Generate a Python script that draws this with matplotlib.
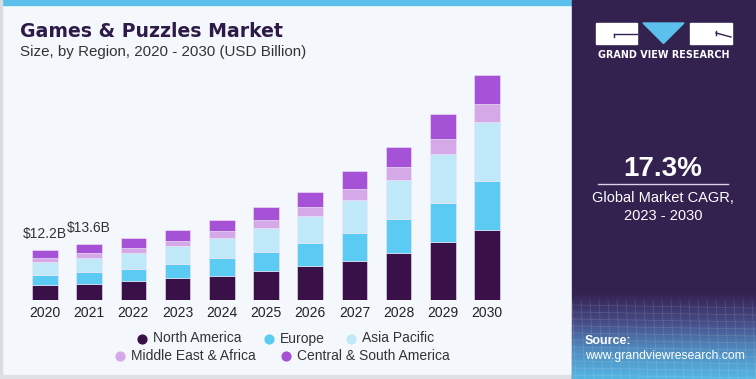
import matplotlib
matplotlib.use("Agg")
import matplotlib.pyplot as plt
import numpy as np
from matplotlib.patches import Rectangle, Polygon
from matplotlib.colors import LinearSegmentedColormap

plt.rcParams['font.family'] = ['Liberation Sans', 'DejaVu Sans']

# Données (USD Billion)
years = ['2020', '2021', '2022', '2023', '2024', '2025', '2026', '2027', '2028', '2029', '2030']
north_america = [3.66, 3.98, 4.72, 5.28, 5.93, 6.99, 8.21, 9.59, 11.54, 14.23, 17.15]
europe = [2.44, 2.85, 2.85, 3.50, 4.31, 4.80, 5.69, 6.83, 8.21, 9.43, 11.87]
asia_pacific = [3.09, 3.41, 3.90, 4.47, 4.96, 5.69, 6.50, 8.05, 9.59, 11.95, 14.47]
middle_east_africa = [0.98, 1.22, 1.30, 1.22, 1.54, 1.95, 2.28, 2.60, 3.01, 3.66, 4.39]
central_south_america = [2.03, 2.11, 2.44, 2.68, 2.76, 3.33, 3.74, 4.31, 4.96, 6.02, 6.99]
region_names = ['North America', 'Europe', 'Asia Pacific', 'Middle East & Africa', 'Central & South America']
annotations = {0: '$12.2B', 1: '$13.6B'}

colors = ['#3a1048', '#5ccbf3', '#bfe8f8', '#d5a8e8', '#a552d6']
series = [north_america, europe, asia_pacific, middle_east_africa, central_south_america]

W, H = 756, 379
fig = plt.figure(figsize=(W / 100, H / 100), dpi=100)
fig.patch.set_facecolor('#f4f8fc')

# Fond en coordonnées pixels
bg = fig.add_axes([0, 0, 1, 1])
bg.set_xlim(0, W)
bg.set_ylim(H, 0)
bg.axis('off')
bg.add_patch(Rectangle((0, 0), 572, 5, color='#5bc0eb'))
bg.add_patch(Rectangle((0, 0), 2, H, color='#d8dde3'))
bg.add_patch(Rectangle((0, 375), 572, 4, color='#dde1e6'))

# Panneau de droite
bg.add_patch(Rectangle((572, 0), W - 572, H, color='#33214f'))
grad = np.linspace(0, 1, 100)[:, None]
cm = LinearSegmentedColormap.from_list('g', ['#33214f', '#474a85', '#4f8cc0', '#55b6e2'])
bg.imshow(grad, cmap=cm, extent=[572, W, 379, 292], aspect='auto', zorder=1)
# grille légère
for yy in np.arange(305, 379, 7):
    bg.plot([572, W], [yy, yy + 3], color='white', alpha=0.12, lw=0.6, zorder=2)
for xx in np.arange(572, W, 9):
    bg.plot([xx, xx + 4], [300, 379], color='white', alpha=0.12, lw=0.6, zorder=2)

# Logo
bg.add_patch(Rectangle((596, 23), 41, 20.5, color='white', zorder=3))
bg.plot([614, 637], [34, 34], color='#33214f', lw=1, zorder=4)
bg.plot([614, 614], [34, 37], color='#33214f', lw=1, zorder=4)
bg.add_patch(Polygon([[643, 23], [684, 23], [663.5, 43.5]], color='#5bc0eb', zorder=3))
bg.add_patch(Rectangle((690, 23), 41.5, 20.5, color='white', zorder=3))
bg.plot([716, 731], [33, 37], color='#33214f', lw=1, zorder=4)
bg.plot([716, 716], [31, 35], color='#33214f', lw=1, zorder=4)
bg.text(664, 54.5, 'GRAND VIEW RESEARCH', color='white', fontsize=6.9,
        fontweight='bold', ha='center', va='center', zorder=4, family='DejaVu Sans')

bg.text(663, 169, '17.3%', color='white', fontsize=20, fontweight='bold', ha='center', va='center', zorder=4)
bg.plot([598, 728], [184, 184], color='#d8d3e6', lw=1, zorder=4)
bg.text(663, 198.5, 'Global Market CAGR,', color='white', fontsize=10.5, ha='center', va='center', zorder=4)
bg.text(663, 216, '2023 - 2030', color='white', fontsize=10.5, ha='center', va='center', zorder=4)
bg.text(585, 341.5, 'Source:', color='white', fontsize=9, fontweight='bold', ha='left', va='center', zorder=4)
bg.text(585, 356.5, 'www.grandviewresearch.com', color='white', fontsize=8.8, ha='left', va='center', zorder=4)

# Titres
bg.text(20, 31.5, 'Games & Puzzles Market', color='#2e1a47', fontsize=13.6, fontweight='heavy',
        ha='left', va='center', family='DejaVu Sans')
bg.text(20, 52, 'Size, by Region, 2020 - 2030 (USD Billion)', color='#333333', fontsize=10.9,
        ha='left', va='center')

# Graphique
x = np.arange(len(years))
ax = fig.add_axes([18.5 / W, 1 - 300 / H, 495 / W, 246 / H])
ax.set_facecolor('none')
bottom = np.zeros(len(years))
for vals, col in zip(series, colors):
    ax.bar(x, vals, width=0.58, bottom=bottom, color=col, edgecolor='#f0e6f7', linewidth=0.4)
    bottom += np.array(vals)

for i, txt in annotations.items():
    ax.text(x[i], bottom[i] + 2.3, txt, ha='center', va='bottom', fontsize=10, color='#333333')

ax.set_xlim(-0.6, 10.6)
ax.set_ylim(0, 60)
ax.set_xticks(x)
ax.set_xticklabels(years, fontsize=10, color='#222222')
ax.tick_params(axis='x', length=0, pad=4)
ax.set_yticks([])
for s in ax.spines.values():
    s.set_visible(False)

# Légende manuelle
legend_pos = [(141.7, 338.5), (269, 338.5), (350.7, 338.5), (120, 356), (285.7, 356)]
for (lx, ly), name, col in zip(legend_pos, region_names, colors):
    bg.scatter([lx], [ly], s=40, color=col, zorder=5)
    bg.text(lx + 11, ly, name, fontsize=10, color='#333333', ha='left', va='center')

fig.savefig('out.png', dpi=100, facecolor=fig.get_facecolor())
